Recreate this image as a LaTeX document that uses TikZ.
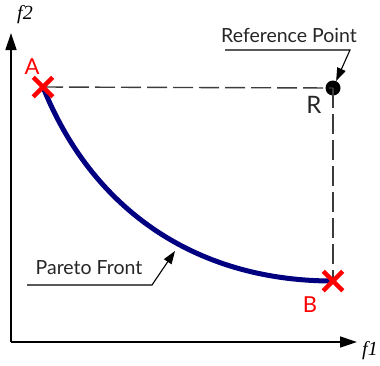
\documentclass[tikz,border=0pt]{standalone}
\usepackage{fontspec}
\setmainfont{Lato}
\newfontfamily\axfont{Liberation Serif}
\usetikzlibrary{arrows.meta,shapes.misc}
\definecolor{frontblue}{RGB}{0,0,128}
\definecolor{dashgray}{RGB}{60,60,60}
\definecolor{marksred}{RGB}{255,0,0}
\tikzset{
  axisline/.style={line width=1.4pt,black,-{Triangle[length=17pt,width=11pt]}},
  guide/.style={line width=1.4pt,dashgray,dash pattern=on 20pt off 6pt},
  front/.style={line width=5pt,frontblue},
  crossmark/.style={cross out,draw=marksred,line width=4.5pt,minimum size=15pt,inner sep=0pt},
  refdot/.style={circle,fill=black,minimum size=15pt,inner sep=0pt},
  callout/.style={line width=1.1pt,black,-{Triangle[length=13pt,width=9pt]}},
  ptlabel/.style={text=marksred,font=\fontsize{22}{24}\selectfont},
  blabel/.style={text=black!85,font=\fontsize{24}{26}\selectfont},
  calltext/.style={text=black!85,font=\fontsize{19.5}{22}\selectfont},
  axlabel/.style={font=\axfont\itshape\fontsize{20}{22}\selectfont},
}
\begin{document}
\begin{tikzpicture}[x=1pt,y=-1pt]
\useasboundingbox (0,0) rectangle (380,365);
% axes
\coordinate (O) at (11,342);
\coordinate (ytop) at (11,33);
\coordinate (xend) at (357,342);
\draw[axisline] (O) -- (ytop);
\draw[axisline] (O) -- (xend);
\node[axlabel] (f2) at (25,15) {f2};
\node[axlabel] (f1) at (370,351) {f1};
% key points
\coordinate (a) at (43,87);
\coordinate (b) at (333,281);
\node[refdot] (R) at (333,88) {};
% guides
\draw[guide] (a) -- (R.center);
\draw[guide] (R.center) -- (b);
% pareto front
\draw[front] (a) .. controls (91,207) and (193,281) .. (b);
% markers
\node[crossmark] (A) at (a) {};
\node[crossmark] (B) at (b) {};
\node[ptlabel] (Alab) at (32,67) {A};
\node[ptlabel] (Blab) at (310,305) {B};
\node[blabel] (Rlab) at (314,105) {R};
% reference point callout
\node[calltext] (reftext) at (289,35) {Reference Point};
\coordinate (r1) at (225,50);
\coordinate (r2) at (350,50);
\draw[callout] (r1) -- (r2) -- (R);
% pareto front callout
\node[calltext] (partext) at (89,268) {Pareto Front};
\coordinate (p1) at (27,285);
\coordinate (p2) at (152,285);
\coordinate (p3) at (175,251);
\draw[callout] (p1) -- (p2) -- (p3);
\end{tikzpicture}
\end{document}
